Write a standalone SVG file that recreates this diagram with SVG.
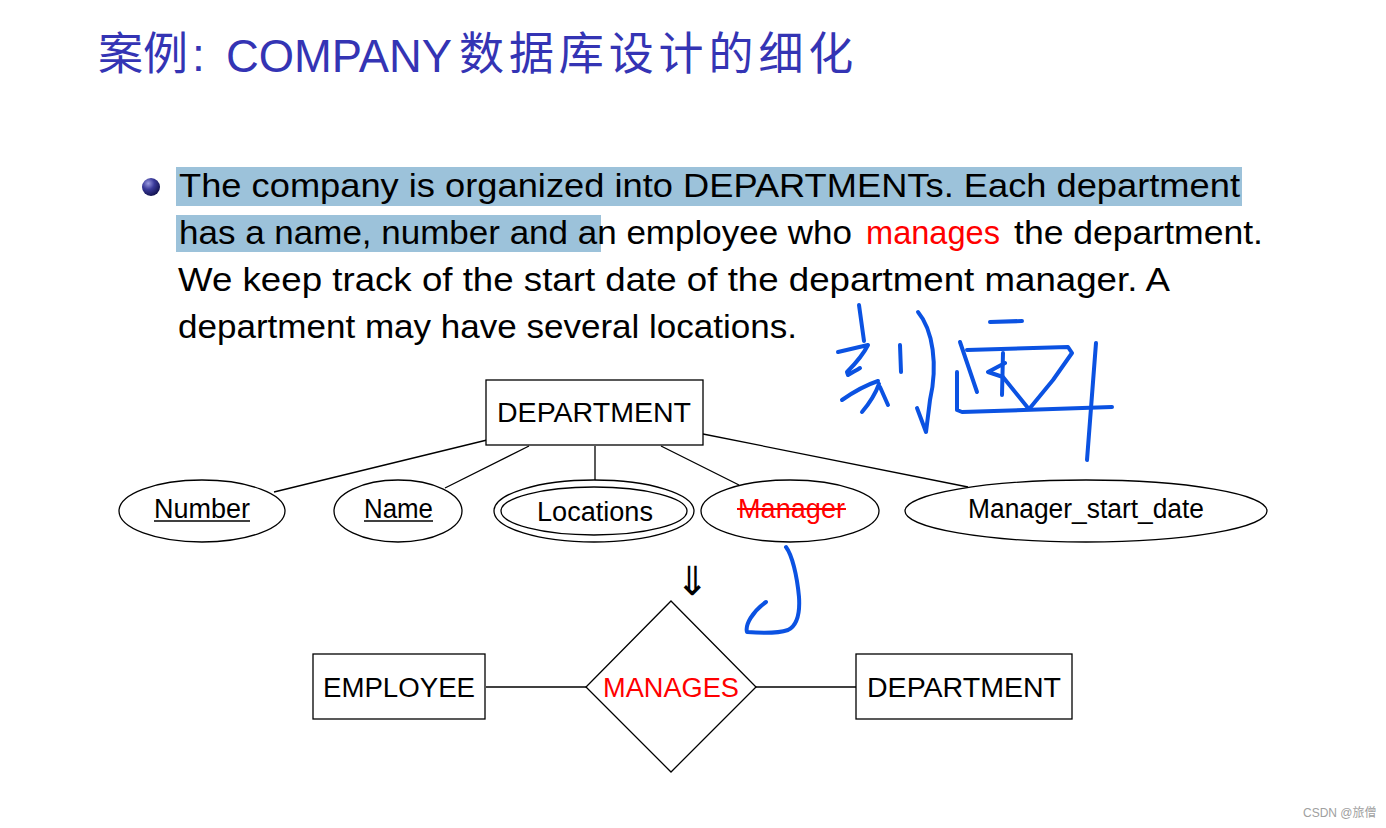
<svg xmlns="http://www.w3.org/2000/svg" width="1386" height="828" viewBox="0 0 1386 828">
  <defs>
    <radialGradient id="ball" cx="0.35" cy="0.3" r="0.75">
      <stop offset="0" stop-color="#9a9ae0"/>
      <stop offset="0.45" stop-color="#3a3a9a"/>
      <stop offset="1" stop-color="#10104a"/>
    </radialGradient>
    <style>
      .title { font-family: "Liberation Sans", "Noto Sans CJK SC", sans-serif; fill: #3434b4; }
      .cjk { font-family: "Noto Sans CJK SC", sans-serif; fill: #3434b4; }
      .body { font-family: "Liberation Sans", Arial, sans-serif; font-size: 34px; fill: #000; }
      .hl { fill: #9cc2da; }
      .shape { fill: #fff; stroke: #000; stroke-width: 1.3; }
      .conn { stroke: #000; stroke-width: 1.3; fill: none; }
      .lbl { font-family: "Liberation Sans", Arial, sans-serif; font-size: 27px; fill: #000; }
      .ink { fill: none; stroke: #0b52e2; stroke-width: 4; stroke-linecap: round; stroke-linejoin: round; }
      text.red { fill: #ff0000; }
    </style>
  </defs>

  <rect width="1386" height="828" fill="#fff"/>

  <!-- Title -->
  <g id="title">
    <text class="cjk" x="98" y="70" font-size="45">案例</text>
    <text class="title" x="192" y="71" font-size="46">:</text>
    <text class="title" x="226" y="72" font-size="46" textLength="226" lengthAdjust="spacingAndGlyphs">COMPANY</text>
    <text class="cjk" x="459" y="70" font-size="45" letter-spacing="4.9">数据库设计的细化</text>
  </g>

  <!-- Bullet text -->
  <g id="bullet-text">
    <rect class="hl" x="176" y="167" width="1066" height="39"/>
    <rect class="hl" x="176" y="215" width="425" height="37"/>
    <circle cx="151" cy="187" r="9" fill="url(#ball)"/>
    <text class="body" x="179" y="197" textLength="1061" lengthAdjust="spacingAndGlyphs">The company is organized into DEPARTMENTs.  Each department</text>
    <text class="body" x="179" y="244" textLength="673" lengthAdjust="spacingAndGlyphs">has a name, number and an employee who</text>
    <text class="body red" x="866" y="244" textLength="134" lengthAdjust="spacingAndGlyphs">manages</text>
    <text class="body" x="1014" y="244" textLength="249" lengthAdjust="spacingAndGlyphs">the department.</text>
    <text class="body" x="178" y="291" textLength="992" lengthAdjust="spacingAndGlyphs">We keep track of the start date of the department manager.  A</text>
    <text class="body" x="178" y="338" textLength="619" lengthAdjust="spacingAndGlyphs">department may have several locations.</text>
  </g>

  <!-- Connectors -->
  <g id="connectors">
    <line class="conn" x1="487" y1="440" x2="274" y2="492"/>
    <line class="conn" x1="529" y1="446" x2="445" y2="488"/>
    <line class="conn" x1="595" y1="446" x2="595" y2="481"/>
    <line class="conn" x1="661" y1="446" x2="739" y2="485"/>
    <line class="conn" x1="703" y1="434" x2="968" y2="487"/>
    <line class="conn" x1="486" y1="687" x2="586" y2="687"/>
    <line class="conn" x1="756" y1="687" x2="856" y2="687"/>
  </g>

  <!-- Top ER diagram -->
  <g id="department-top">
    <rect class="shape" x="486" y="380" width="217" height="65"/>
    <text class="lbl" x="497" y="422" textLength="194" lengthAdjust="spacingAndGlyphs">DEPARTMENT</text>
  </g>
  <g id="attr-number">
    <ellipse class="shape" cx="202" cy="511" rx="83" ry="31"/>
    <text class="lbl" x="154" y="518" font-size="26" textLength="96" lengthAdjust="spacingAndGlyphs">Number</text>
    <line x1="154" y1="521" x2="250" y2="521" stroke="#000" stroke-width="1.5"/>
  </g>
  <g id="attr-name">
    <ellipse class="shape" cx="398" cy="511" rx="64" ry="31"/>
    <text class="lbl" x="364" y="518" font-size="26" textLength="69" lengthAdjust="spacingAndGlyphs">Name</text>
    <line x1="364" y1="521" x2="433" y2="521" stroke="#000" stroke-width="1.5"/>
  </g>
  <g id="attr-locations">
    <ellipse class="shape" cx="594" cy="511" rx="100" ry="31"/>
    <ellipse class="shape" cx="594" cy="511" rx="93" ry="24"/>
    <text class="lbl" x="537" y="521" font-size="26" textLength="116" lengthAdjust="spacingAndGlyphs">Locations</text>
  </g>
  <g id="attr-manager">
    <ellipse class="shape" cx="790" cy="511" rx="89" ry="31"/>
    <text class="lbl red" x="738" y="518" font-size="26" textLength="107" lengthAdjust="spacingAndGlyphs">Manager</text>
    <line x1="737" y1="509" x2="846" y2="509" stroke="#ff0000" stroke-width="2"/>
  </g>
  <g id="attr-manager-start-date">
    <ellipse class="shape" cx="1086" cy="511" rx="181" ry="31"/>
    <text class="lbl" x="968" y="518" font-size="26" textLength="236" lengthAdjust="spacingAndGlyphs">Manager_start_date</text>
  </g>

  <!-- Double arrow -->
  <g id="implies">
    <text x="692" y="595" font-family="DejaVu Sans, sans-serif" font-size="40" text-anchor="middle" fill="#000">⇓</text>
  </g>

  <!-- Bottom ER diagram -->
  <g id="employee">
    <rect class="shape" x="313" y="654" width="172" height="65"/>
    <text class="lbl" x="323" y="697" textLength="152" lengthAdjust="spacingAndGlyphs">EMPLOYEE</text>
  </g>
  <g id="manages">
    <polygon class="shape" points="671,601 756,687 671,772 586,687"/>
    <text class="lbl red" x="603" y="697" textLength="136" lengthAdjust="spacingAndGlyphs">MANAGES</text>
  </g>
  <g id="department-bottom">
    <rect class="shape" x="856" y="654" width="216" height="65"/>
    <text class="lbl" x="867" y="697" textLength="194" lengthAdjust="spacingAndGlyphs">DEPARTMENT</text>
  </g>

  <!-- Handwritten annotations -->
  <g id="handwriting">
    <path class="ink" d="M859,305 C861,320 863,333 864,341"/>
    <path class="ink" d="M838,352 L868,345 C862,357 852,367 847,372 L848,375 C853,372 857,370 860,368"/>
    <path class="ink" d="M842,400 C852,393 866,385 878,381"/>
    <path class="ink" d="M879,384 C875,395 868,405 862,412"/>
    <path class="ink" d="M880,387 L888,405"/>
    <path class="ink" d="M900,345 L901,372"/>
    <path class="ink" d="M918,312 C933,330 938,365 930,400 L926,432 M917,408 L926,432"/>
    <path class="ink" d="M990,322 L1022,321"/>
    <path class="ink" d="M960,342 L977,392"/>
    <path class="ink" d="M957,372 L957,410 L962,412 L1112,407"/>
    <path class="ink" d="M967,350 L1068,347 L1072,353 L1053,380 L1030,408"/>
    <path class="ink" d="M1003,353 L1002,395"/>
    <path class="ink" d="M1005,363 L988,372 L1003,377 L1028,408"/>
    <path class="ink" d="M1096,343 L1087,460"/>
    <path class="ink" d="M786,547 C792,555 797,575 799,597 C800,612 798,625 788,630 C776,634 760,633 747,632 C745,625 752,612 766,602"/>
  </g>

  <!-- Watermark -->
  <text x="1303" y="817" font-family="Liberation Sans, Noto Sans CJK SC, sans-serif" font-size="12" fill="#a0a0a0">CSDN @旅僧</text>
</svg>
